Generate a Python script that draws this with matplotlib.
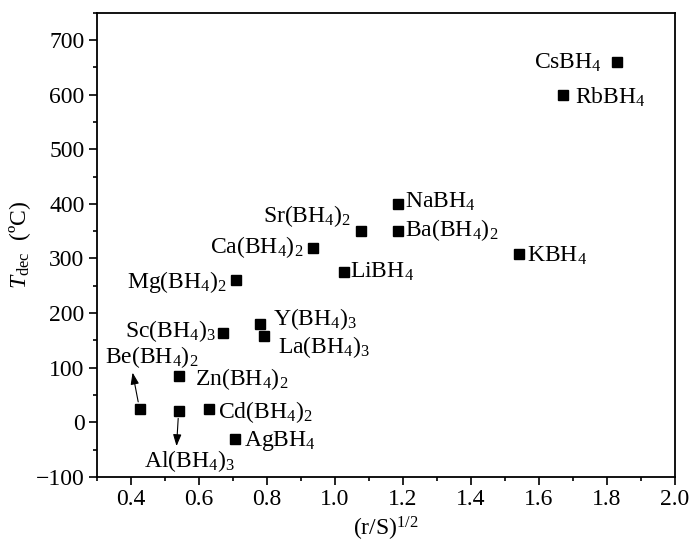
import matplotlib
matplotlib.use('Agg')
import matplotlib.pyplot as plt
from matplotlib.ticker import MultipleLocator

plt.rcParams['font.family'] = ['Liberation Serif', 'DejaVu Serif']
plt.rcParams['mathtext.fontset'] = 'custom'
plt.rcParams['mathtext.rm'] = 'Liberation Serif'
plt.rcParams['mathtext.it'] = 'Liberation Serif:italic'

# compounds, (r/S)^1/2 and decomposition temperature (C)
names = ['CsBH$_4$', 'RbBH$_4$', 'NaBH$_4$', 'Sr(BH$_4$)$_2$', 'Ba(BH$_4$)$_2$',
         'Ca(BH$_4$)$_2$', 'LiBH$_4$', 'KBH$_4$', 'Mg(BH$_4$)$_2$', 'Sc(BH$_4$)$_3$',
         'Y(BH$_4$)$_3$', 'La(BH$_4$)$_3$', 'Zn(BH$_4$)$_2$', 'Be(BH$_4$)$_2$',
         'Al(BH$_4$)$_3$', 'Cd(BH$_4$)$_2$', 'AgBH$_4$']
x = [1.83, 1.67, 1.185, 1.075, 1.185, 0.935, 1.025, 1.54, 0.71, 0.67,
     0.78, 0.79, 0.54, 0.425, 0.54, 0.63, 0.705]
t_dec = [660, 600, 400, 350, 350, 320, 275, 308, 260, 163,
         180, 158, 85, 25, 20, 25, -30]

# label offsets to baseline (points) and alignment
offsets = [(-11, -5, 'right'), (8.5, -6.5, 'left'), (5, -3, 'left'), (-7, 6.5, 'right'),
           (5, -3.6, 'left'), (-7, -3.6, 'right'), (5, -4.3, 'left'), (5.8, -5.8, 'left'),
           (-7, -5.8, 'right'), (-5, -3, 'right'), (9.4, -0.7, 'left'), (10, -12, 'left'),
           (11.5, -6.5, 'left'), (-24.5, 33, 'left'), (8, -40, 'center'),
           (6, -6.5, 'left'), (6.5, -5, 'left')]

fig = plt.figure(figsize=(6.9, 5.48), dpi=100)
ax = fig.add_axes([0.1406, 0.1296, 0.8377, 0.8473])

ax.plot(x, t_dec, 's', color='black', markersize=7.2, linestyle='none')

for i in range(len(names)):
    dx, dy, ha = offsets[i]
    ax.annotate(names[i], (x[i], t_dec[i]), xytext=(dx, dy),
                textcoords='offset points', ha=ha, va='baseline', fontsize=17)

# arrows for Be and Al
be = names.index('Be(BH$_4$)$_2$')
al = names.index('Al(BH$_4$)$_3$')
ax.annotate('', (x[be], t_dec[be]), xytext=(-5, 26), textcoords='offset points',
            arrowprops=dict(arrowstyle='<|-,head_width=0.25,head_length=0.7',
                            color='black', lw=0.8,
                            shrinkA=0, shrinkB=5, mutation_scale=10))
ax.annotate('', (x[al], t_dec[al]), xytext=(-1.5, -25), textcoords='offset points',
            arrowprops=dict(arrowstyle='<|-,head_width=0.25,head_length=0.7',
                            color='black', lw=0.8,
                            shrinkA=0, shrinkB=5, mutation_scale=10))

ax.set_xlim(0.3, 2.0)
ax.set_ylim(-100, 750)
ax.xaxis.set_minor_locator(MultipleLocator(0.1))
ax.yaxis.set_minor_locator(MultipleLocator(50))
ax.set_xticks([0.4, 0.6, 0.8, 1.0, 1.2, 1.4, 1.6, 1.8, 2.0])
ax.set_yticks([-100, 0, 100, 200, 300, 400, 500, 600, 700])
ax.tick_params(which='major', direction='out', length=6, width=1.2, labelsize=17, pad=3)
ax.tick_params(which='minor', direction='out', length=3, width=1.2)
for s in ax.spines.values():
    s.set_linewidth(1.3)

ax.set_xlabel('(r/S)$^{1/2}$', fontsize=17, labelpad=3)
ax.set_ylabel(r'$T_{\mathrm{dec}}$  (ºC)', fontsize=17, labelpad=2)

fig.savefig('out.png', dpi=100)
